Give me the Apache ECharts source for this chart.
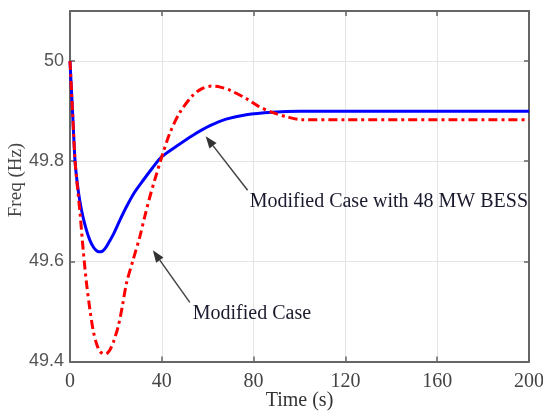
<!DOCTYPE html>
<html><head><meta charset="utf-8">
<script src="https://cdn.jsdelivr.net/npm/echarts@6/dist/echarts.min.js"></script>
<style>html,body{margin:0;padding:0;background:#fff}#c{width:543px;height:411px}</style>
</head><body><div id="c"></div>
<script>
const xTicks = [0, 40, 80, 120, 160, 200];
const yTicks = [49.4, 49.6, 49.8, 50];
const blueT = [0, 1.2, 2.2, 3.2, 4.3, 5.6, 7.2, 8.6, 10.1, 11.4, 12.6, 14, 15.5, 17.2, 19, 21.5, 24.6, 28, 31.9, 36, 40, 46.4, 53.6, 61, 68, 76.8, 88, 100, 120, 200];
const blueV = [50, 49.89, 49.80, 49.755, 49.72, 49.69, 49.662, 49.643, 49.629, 49.622, 49.619, 49.62, 49.627, 49.64, 49.655, 49.68, 49.709, 49.737, 49.762, 49.787, 49.809, 49.83, 49.852, 49.871, 49.884, 49.893, 49.898, 49.9, 49.9, 49.9];
const redT = [0, 1.2, 2.2, 3.2, 4.3, 5.7, 7.2, 8.7, 10.1, 11.6, 13, 14.2, 15.2, 16.3, 17.5, 19, 21, 22.8, 24.6, 27.5, 30.4, 32.6, 34.8, 37.4, 40, 43.5, 47.8, 53.6, 57.5, 61.6, 65.5, 69.6, 76.8, 82, 88.4, 94.2, 101, 120, 200];
const redV = [50, 49.89, 49.80, 49.75, 49.70, 49.625, 49.556, 49.503, 49.462, 49.435, 49.42, 49.416, 49.415, 49.417, 49.424, 49.44, 49.47, 49.51, 49.556, 49.603, 49.649, 49.69, 49.729, 49.77, 49.809, 49.856, 49.897, 49.932, 49.945, 49.95, 49.948, 49.942, 49.925, 49.91, 49.897, 49.889, 49.883, 49.883, 49.883];
const seriesNames = ['Modified Case with 48 MW BESS', 'Modified Case'];
const xName = 'Time (s)', yName = 'Freq (Hz)';
// annotation anchors in data coords: [arrow tail, arrow head, text left]
const annBlue = {tail: [77.4, 49.742], head: [59.1, 49.85], text: [78.3, 49.719]};
const annRed = {tail: [52.2, 49.518], head: [36.1, 49.622], text: [53.5, 49.496]};

const chart = echarts.init(document.getElementById('c'));
const axisCol = '#666';
const common = {
  axisLine: {show: true, onZero: false, lineStyle: {color: axisCol, width: 2}},
  axisTick: {show: true, inside: true, length: 5, lineStyle: {color: axisCol, width: 1.5}},
};
chart.setOption({
  animation: false,
  grid: {left: 70, right: 14, top: 11, bottom: 49.5, containLabel: false, outerBoundsMode: 'none'},
  xAxis: [
    Object.assign({type: 'value', min: 0, max: 200, interval: 40,
      axisLabel: {fontFamily: 'Liberation Serif', fontSize: 20, color: '#444', margin: 10,
        formatter: v => xTicks.includes(v) ? String(v) : ''},
      splitLine: {show: true, lineStyle: {color: '#e4e4e4', width: 1}}}, common),
    Object.assign({type: 'value', position: 'top', min: 0, max: 200, interval: 40,
      axisLabel: {show: false}, splitLine: {show: false}}, common)
  ],
  yAxis: [
    Object.assign({type: 'value', min: 49.4, max: 50.1, interval: 0.2,
      axisLabel: {fontFamily: 'Liberation Sans', fontSize: 18, color: '#555', margin: 6,
        formatter: v => { const r = Math.round(v * 10) / 10; return yTicks.some(t => Math.abs(t - r) < 1e-9) && Math.abs(v - r) < 1e-6 ? String(r) : ''; }},
      splitLine: {show: true, lineStyle: {color: '#e4e4e4', width: 1}}}, common),
    Object.assign({type: 'value', position: 'right', min: 49.4, max: 50.1, interval: 0.2,
      axisLabel: {show: false}, splitLine: {show: false}}, common)
  ],
  series: [
    {name: seriesNames[0], type: 'line', smooth: 0.3, symbol: 'none',
      data: blueT.map((t, i) => [t, blueV[i]]),
      lineStyle: {color: '#0000ff', width: 3}, z: 3},
    {name: seriesNames[1], type: 'line', smooth: 0.3, symbol: 'none',
      data: redT.map((t, i) => [t, redV[i]]),
      lineStyle: {color: '#ff0000', width: 3, type: [9, 4, 3, 4]}, z: 4}
  ]
});

function arrow(a) {
  const p0 = chart.convertToPixel({xAxisIndex: 0, yAxisIndex: 0}, a.tail);
  const p1 = chart.convertToPixel({xAxisIndex: 0, yAxisIndex: 0}, a.head);
  const ang = Math.atan2(p1[1] - p0[1], p1[0] - p0[0]);
  const L = 12, W = 4.5;
  const bx = p1[0] - L * Math.cos(ang), by = p1[1] - L * Math.sin(ang);
  const nx = -Math.sin(ang), ny = Math.cos(ang);
  return [
    {type: 'line', shape: {x1: p0[0], y1: p0[1], x2: bx, y2: by}, style: {stroke: '#444', lineWidth: 1.5}, z: 10},
    {type: 'polygon', shape: {points: [[p1[0], p1[1]], [bx + nx * W, by + ny * W], [bx - nx * W, by - ny * W]]}, style: {fill: '#333'}, z: 10}
  ];
}
function label(a, txt) {
  const p = chart.convertToPixel({xAxisIndex: 0, yAxisIndex: 0}, a.text);
  return {type: 'text', x: p[0], y: p[1], style: {text: txt, fontFamily: 'Liberation Serif', fontSize: 20, fill: '#1a1a2e', verticalAlign: 'middle', align: 'left'}, z: 10};
}
const xMid = chart.convertToPixel({xAxisIndex: 0}, 100);
const axisNames = [
  {type: 'text', x: xMid, y: 401, style: {text: xName, fontFamily: 'Liberation Serif', fontSize: 20, fill: '#333', align: 'center', verticalAlign: 'middle'}},
  {type: 'text', x: 16, y: 180, rotation: Math.PI / 2, style: {text: yName, fontFamily: 'Liberation Serif', fontSize: 19, fill: '#444', align: 'center', verticalAlign: 'middle'}}
];
chart.setOption({graphic: [].concat(arrow(annBlue), arrow(annRed), [label(annBlue, seriesNames[0]), label(annRed, seriesNames[1])], axisNames)});
</script></body></html>
